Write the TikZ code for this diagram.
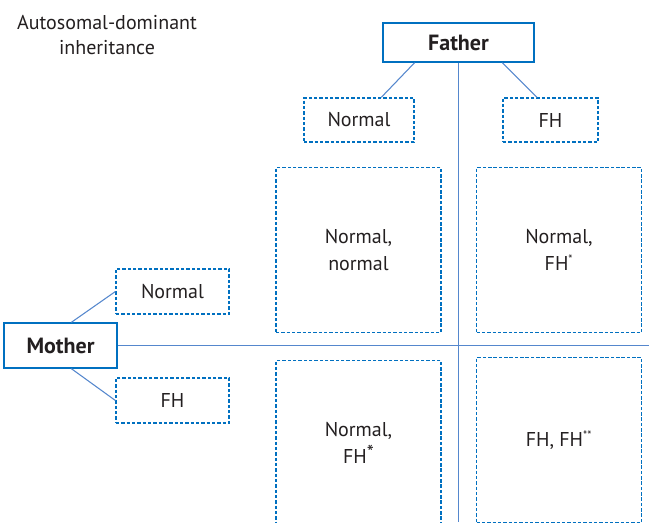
\documentclass[tikz,border=0pt]{standalone}
\usepackage{fontspec}
\setmainfont{PT Sans}
\usetikzlibrary{calc}

\definecolor{boxblue}{RGB}{0,112,192}
\definecolor{lineblue}{RGB}{85,135,205}
\definecolor{textgrey}{RGB}{35,31,32}

\tikzset{
  parent/.style={draw=boxblue, line width=1pt, font=\bfseries\fontsize{16.5}{19}\selectfont, text=textgrey},
  allele/.style={draw=boxblue, line width=0.9pt, dash pattern=on 2.6pt off 1.4pt, font=\fontsize{15}{18}\selectfont, text=textgrey},
  child/.style={allele, minimum width=123.75pt, minimum height=123.75pt, align=center, font=\fontsize{15}{20}\selectfont},
  link/.style={draw=lineblue, line width=0.8pt}
}
\newcommand{\smallstar}[1]{\textsuperscript{\fontsize{9}{9}\selectfont #1}}
\newcommand{\bigstar}{\raisebox{0.35ex}{*}}

\begin{document}
\begin{tikzpicture}[x=0.75pt, y=-0.75pt]
            \useasboundingbox (0, 0) rectangle (649, 522);
            \clip (0, 0) rectangle (649, 522);
            \node[align=center, text=textgrey, font=\fontsize{15}{19}\selectfont] (title) at (107, 35) {Autosomal-dominant\\inheritance};
            % father side
            \node[parent, minimum width=113.25pt, minimum height=29.25pt] (father) at (458.5, 42.5) {Father};
            \node[allele, minimum width=82.5pt, minimum height=33pt] (npf) at (359, 120) {Normal};
            \node[allele, minimum width=71.25pt, minimum height=33pt] (fhf) at (550.5, 120) {FH};
            % mother side
            \node[parent, minimum width=84.75pt, minimum height=33.75pt] (mother) at (60.5, 345.5) {Mother};
            \node[allele, minimum width=84.75pt, minimum height=33.75pt] (npm) at (172.5, 291.5) {Normal};
            \node[allele, minimum width=84.75pt, minimum height=33.75pt] (fhm) at (172.5, 400.5) {FH};
            % offspring
            \node[child] (nn) at (358.5, 250) {Normal,\\normal};
            \node[child] (nfh) at (559, 250) {Normal,\\FH\smallstar{*}};
            \node[child] (fhn) at (358.5, 443) {Normal,\\FH\bigstar};
            \node[child] (fhfh) at (559, 440) {FH, FH\smallstar{**}};
            \coordinate (vend) at (458.5, 522);
            \coordinate (hend) at (649, 345.5);
            \draw[link] (father.south) -- (vend);
            \draw[link] (mother.east) -- (hend);
            \draw[link] (father.south -| npf.east) -- ($(npf.north)!0.4!(npf.north east)$);
            \draw[link] (father.south -| fhf.west) -- ($(fhf.north)!0.28!(fhf.north west)$);
            \draw[link] ($(mother.north)!0.19!(mother.north east)$) -- (npm.west);
            \draw[link] ($(mother.south)!0.19!(mother.south east)$) -- (fhm.west);
        \end{tikzpicture}
\end{document}
